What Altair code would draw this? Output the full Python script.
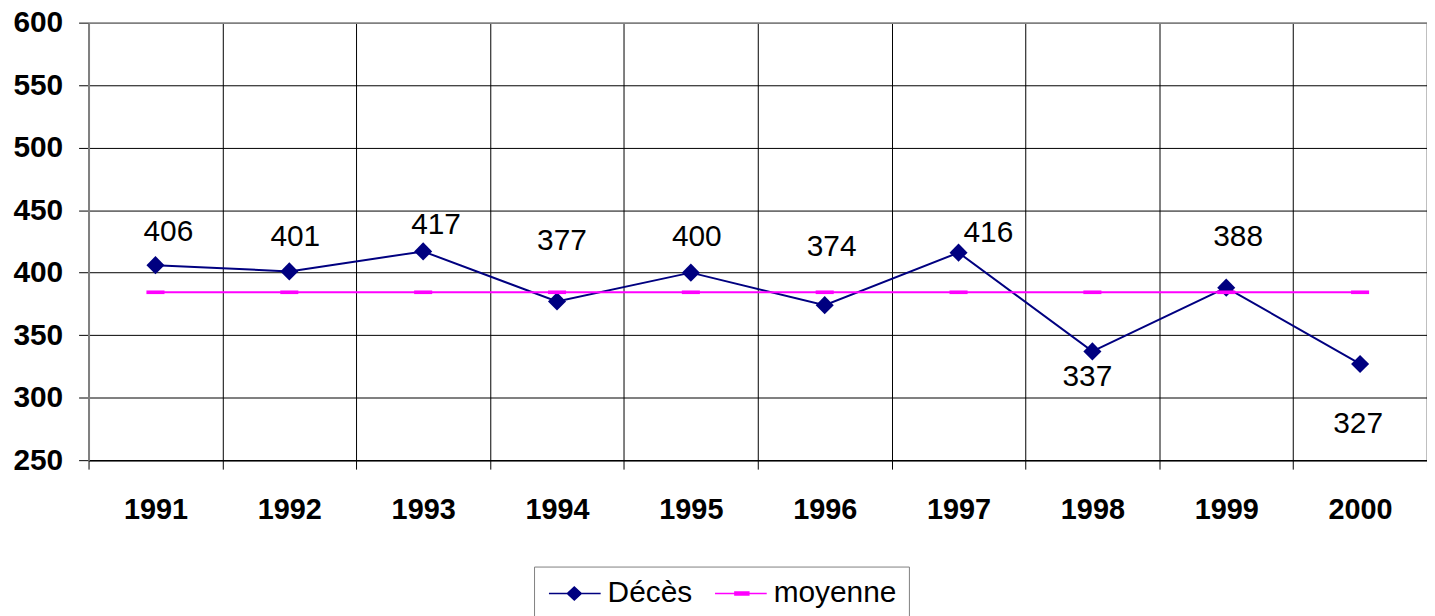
import altair as alt
import pandas as pd

# ---- data ----
years = ["1991", "1992", "1993", "1994", "1995", "1996", "1997", "1998", "1999", "2000"]
deces = [406, 401, 417, 377, 400, 374, 416, 337, 388, 327]
series_names = ["Décès", "moyenne"]
moyenne_value = round(sum(deces) / len(deces), 1)
moyenne = [moyenne_value] * len(years)
y_ticks = [250, 300, 350, 400, 450, 500, 550, 600]

df = pd.DataFrame({
    "year": years + years,
    "value": deces + moyenne,
    "series": [series_names[0]] * len(years) + [series_names[1]] * len(years),
})

# ---- styling ----
FONT = "Liberation Sans"
NAVY = "#000080"
MAGENTA = "#FF00FF"
GRAY = "#808080"

# label offsets (dx, dy) relative to each point, mimicking Excel placement
LABEL_OFFSETS = {
    "1991": (13, -33), "1992": (6, -35), "1993": (13, -26), "1994": (5, -61),
    "1995": (6, -36), "1996": (7, -58), "1997": (30, -20), "1998": (-5, 26),
    "1999": (12, -51), "2000": (-2, 60),
}

# legend symbol paths (line with marker)
P_DECES = "M-1.2,0L4.0,0M1.35,-0.65L2.05,0L1.35,0.65L0.65,0Z"
P_MOY = "M-1.2,0L4.0,0M0.8,-0.15L2.2,-0.15L2.2,0.15L0.8,0.15Z"
DASH = "M-1,-0.2L1,-0.2L1,0.2L-1,0.2Z"

legend = alt.Legend(
    orient="none", legendX=448, legendY=547, direction="horizontal", title=None,
    strokeColor=GRAY, fillColor="white", padding=12,
    labelFont=FONT, labelFontSize=30, labelColor="black",
    labelOffset=32, columnPadding=19, symbolSize=400,
    symbolType={"expr": f"datum.value === 'Décès' ? '{P_DECES}' : '{P_MOY}'"},
    symbolFillColor={"expr": f"datum.value === 'Décès' ? '{NAVY}' : '{MAGENTA}'"},
    symbolStrokeColor={"expr": f"datum.value === 'Décès' ? '{NAVY}' : '{MAGENTA}'"},
    symbolStrokeWidth=1.5, symbolOpacity=1,
)

color_scale = alt.Scale(domain=series_names, range=[NAVY, MAGENTA])

x_enc = alt.X(
    "year:N",
    scale=alt.Scale(type="band", paddingInner=0, paddingOuter=0, round=False),
    axis=alt.Axis(
        title=None, labelAngle=0, tickBand="extent",
        grid=True,
        gridColor={"condition": {"test": "datum.value === '2000'", "value": GRAY}, "value": "#000000"},
        gridWidth={"condition": {"test": "datum.value === '2000'", "value": 2}, "value": 1},
        ticks=True, tickSize=9, tickColor="#000000", tickWidth=1,
        domain=True, domainColor="#000000", domainWidth=1.5,
        labelFont=FONT, labelFontSize=29, labelFontWeight="bold", labelColor="black",
        labelPadding=27,
    ),
)
y_enc = alt.Y(
    "value:Q",
    scale=alt.Scale(domain=[250, 600], nice=False, zero=False),
    axis=alt.Axis(
        title=None, values=y_ticks, format="d",
        grid=True,
        gridColor={"condition": {"test": "datum.value === 600", "value": GRAY}, "value": "#000000"},
        gridWidth={"condition": {"test": "datum.value === 600", "value": 2}, "value": 1},
        ticks=True, tickSize=10, tickColor="#000000", tickWidth=1,
        domain=True, domainColor=GRAY, domainWidth=2,
        labelFont=FONT, labelFontSize=30, labelFontWeight="bold", labelColor="black",
        labelPadding=16, labelFlush=False,
    ),
)

base = alt.Chart(df)

lines = base.mark_line(strokeWidth=2).encode(
    x=x_enc, y=y_enc,
    color=alt.Color("series:N", scale=color_scale, legend=legend),
    detail="series:N",
)

diamonds = base.transform_filter(alt.datum.series == series_names[0]).mark_point(
    filled=True, size=330, opacity=1, shape="diamond", color=NAVY
).encode(x=x_enc, y=y_enc)

dashes = base.transform_filter(alt.datum.series == series_names[1]).mark_point(
    filled=True, size=330, opacity=1, shape=DASH, color=MAGENTA
).encode(x=x_enc, y=y_enc)

text_layers = []
for yr in years:
    dx, dy = LABEL_OFFSETS[yr]
    text_layers.append(
        base.transform_filter(
            (alt.datum.series == series_names[0]) & (alt.datum.year == yr)
        ).mark_text(
            font=FONT, fontSize=30, color="black", align="center", baseline="middle",
            dx=dx, dy=dy,
        ).encode(x=x_enc, y=y_enc, text=alt.Text("value:Q", format="d"))
    )

chart = alt.layer(lines, diamonds, dashes, *text_layers).properties(
    width=1346, height=440,
    autosize=alt.AutoSizeParams(type="none"),
    padding={"left": 81, "top": 13, "right": 0, "bottom": 155},
    background="white",
).configure_view(stroke=None)

chart.save("out.html", embed_options={"renderer": "svg", "actions": False})
